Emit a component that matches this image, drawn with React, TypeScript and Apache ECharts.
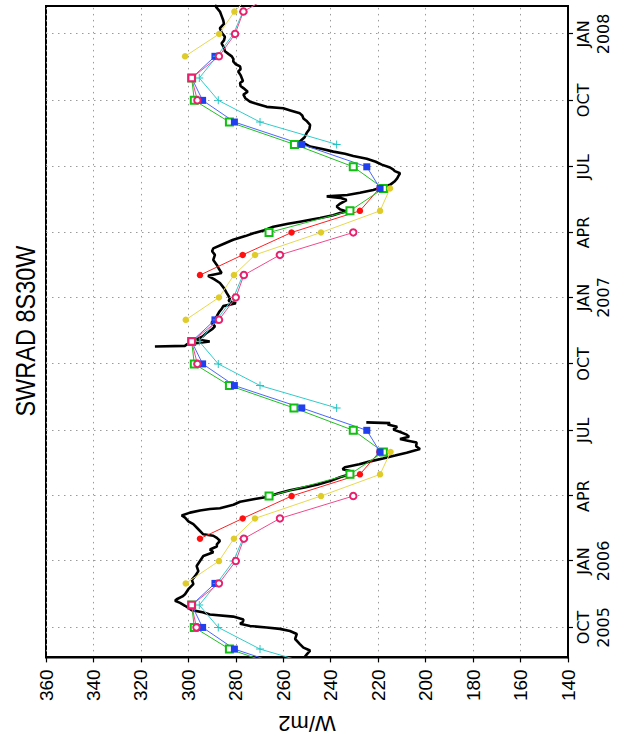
import React, { useEffect, useRef } from "react";
import * as echarts from "echarts";

// ---------- data ----------
const BASE_DATE = "2005-10-01"; // buoy day offsets are counted from this date
const AXIS_START_DAY = -41.5;
const AXIS_END_DAY = 860.7;

const tickDates = [
  "2005-10-01", "2006-01-01", "2006-04-01", "2006-07-01", "2006-10-01",
  "2007-01-01", "2007-04-01", "2007-07-01", "2007-10-01", "2008-01-01",
];
const tickLabels = [
  "OCT\n2005", "JAN\n2006", "APR", "JUL", "OCT",
  "JAN\n2007", "APR", "JUL", "OCT", "JAN\n2008",
];

const months = [
  "2005-08-01", "2005-09-01", "2005-10-01", "2005-11-01", "2005-12-01",
  "2006-01-01", "2006-02-01", "2006-03-01", "2006-04-01", "2006-05-01", "2006-06-01", "2006-07-01",
  "2006-08-01", "2006-09-01", "2006-10-01", "2006-11-01", "2006-12-01",
  "2007-01-01", "2007-02-01", "2007-03-01", "2007-04-01", "2007-05-01", "2007-06-01", "2007-07-01",
  "2007-08-01", "2007-09-01", "2007-10-01", "2007-11-01", "2007-12-01",
  "2008-01-01", "2008-02-01", "2008-03-01",
];

const N = null;
const redVals = [N, N, N, N, N, N, 295.1, 277.1, 256.5, 227.7, 219.5, N, N, N, N, N, N, N, 295.1, 277.1, 256.5, 227.7, 219.5, N, N, N, N, N, N, N, N, N];
const greenVals = [255.3, 282.7, 297.5, 298.6, N, N, N, N, 266.0, 231.9, 217.8, 230.5, 255.5, 282.7, 297.5, 298.6, N, N, N, N, 266.0, 231.9, 217.8, 230.5, 255.3, 282.7, 297.5, 298.6, N, N, N, N];
const blueVals = [252.2, 280.6, 294.0, 298.6, 288.8, N, N, N, N, N, 219.2, 224.8, 252.2, 280.6, 294.0, 298.6, 288.8, N, N, N, N, N, 219.2, 224.8, 252.2, 280.6, 294.0, 298.6, 288.8, N, N, N];
const cyanVals = [237.5, 269.8, 287.4, 295.4, 288.0, 281.0, 277.0, N, N, N, N, N, 237.5, 269.8, 287.4, 295.4, 288.0, 281.0, 277.0, N, N, N, N, N, 237.5, 269.8, 287.4, 295.4, 288.0, 281.0, 277.0, N];
const pinkVals = [N, N, 296.6, 298.6, 287.1, 280.0, 276.6, 261.4, 230.5, N, N, N, N, N, 296.2, 298.6, 287.1, 280.0, 276.6, 261.4, 230.5, N, N, N, N, N, 296.2, 298.6, 287.1, 280.3, 276.8, 261.4];
const yellowVals = [N, N, N, N, 301.1, 287.1, 280.8, 271.9, 244.1, 219.2, 214.8, N, N, N, N, N, 301.1, 287.1, 280.8, 271.9, 244.1, 219.2, 215.0, N, N, N, N, N, 301.4, 287.0, 280.6, 271.9];

// buoy daily record: day offset from BASE_DATE, value (W/m2); null = gap
const buoyDays = [
  -41, -37, -32, -28, -23, -16, -9, -5, -2, 0, 2, 5, 8, 11, 15, 18, 21, 24, 30, 34, 37, 39, 43, 46, 53, 60, 66, 71, 78, 85, 92, 99, 104, 108, 112, 115, 120, 124, 127, 129, 136, 143, 147, 152, 155, 159, 162, 164, 165, 170, 174, 178, 181, 186, 190, 194, 198, 203, 208, 212, 216, 219, 222, 226, 230, 234, 238, 242, 247, 251, 256, 259, 261, 264, 267, 271, 274, 278, 281, 283, 284,
  330,
  389, 390, 392, 394, 396, 399, 403, 408, 413, 417, 422, 426, 431, 437, 441, 445, 449, 452, 456, 463, 470, 477, 482, 487, 491, 496, 502, 509, 516, 521, 525, 530, 537, 542, 546, 550, 555, 559, 562, 565, 567, 571, 574, 576, 579, 583, 587, 592, 595, 597, 599, 602, 606, 609, 613, 618, 622, 625, 629, 632, 634, 637, 641, 645, 649, 653, 656, 659, 663, 666, 670, 673, 679, 685, 690, 696, 701, 705, 709, 712, 716, 719, 721, 725, 728, 733, 738, 742, 747, 750, 754, 757, 761, 765, 770, 773, 777, 780, 784, 787, 791, 794, 798, 803, 809, 813, 818, 824, 830, 836, 841, 847, 853, 858, 862,
];
const buoyVals = [
  251, 250, 248.7, 251.5, 253, 255, 254.3, 257.2, 261.4, 267, 274, 278.2, 277, 276.8, 281.1, 290.9, 294, 298.6, 301.4, 303.5, 305.6, 304.9, 302.5, 301.4, 300, 297.9, 298.5, 297.2, 295.8, 296.5, 295.1, 293.7, 289.5, 290.9, 288, 288, 286.7, 288, 289.5, 293.7, 295.8, 297.9, 300, 301.4, 302.8, 299.3, 295.1, 290.9, 286.7, 281, 278.2, 272, 266.3, 262, 257.2, 251, 245.4, 240, 236.1, 232, 231.1, 235, 234, 228, 223.4, 218, 212.9, 208, 202.4, 204, 203.8, 208, 210.8, 207, 208, 211, 213.6, 212, 216, 215, 225,
  null,
  314.1, 301.4, 300.7, 296, 291, 296.5, 294, 292.3, 290, 288.8, 290.2, 289, 288, 287, 286, 285.3, 280, 283, 282.5, 283.8, 285, 286.7, 289, 291.7, 286, 287, 288, 289.5, 288.8, 290, 289.5, 286, 281.1, 276, 272.6, 268, 264.2, 258, 253, 248, 244.5, 239, 236.1, 233.3, 236, 237.5, 236, 233.3, 236, 241.7, 233, 227.7, 222.1, 219, 215, 213, 212, 211.5, 210.8, 213, 213.6, 215, 218.5, 221, 224.8, 230.5, 234, 238.9, 244, 248.7, 251, 253, 251, 250.1, 249, 248.7, 250, 251.5, 252, 253, 257, 260, 267, 271, 274, 276, 276.8, 275, 276.8, 278, 278.2, 277, 277.5, 278, 279, 278, 278.2, 280, 281.1, 281, 281.7, 283, 284.6, 285, 286, 285, 284.6, 286, 286.7, 285, 285.3, 286, 286.7, 288, 288.8,
];

// ---------- helpers ----------
const DAY = 86400000;
const baseMs = Date.parse(BASE_DATE);
const dayMs = (d: number) => baseMs + d * DAY;
const tickMs = tickDates.map((d) => Date.parse(d));
const monthMs = months.map((d) => Date.parse(d));

const PLUS = "path://M4.4,0H5.6V4.4H10V5.6H5.6V10H4.4V5.6H0V4.4H4.4Z";

function monthly(vals: (number | null)[], overrideMonth?: number, overrideSymbol?: string) {
  return vals.map((v, i) => {
    const item: any = { value: [monthMs[i], v === null ? null : v] };
    if (overrideMonth !== undefined && new Date(monthMs[i]).getUTCMonth() === overrideMonth && v !== null) {
      item.symbol = overrideSymbol;
    }
    return item;
  });
}

const FONT = '"Liberation Sans", Arial, sans-serif';
const GRID_LINE = { show: true, lineStyle: { color: "#9a9a9a", type: [1.5, 4.5], width: 1 } };

export default function App() {
  const ref = useRef<HTMLDivElement>(null);
  useEffect(() => {
    const chart = echarts.init(ref.current!, undefined, { renderer: "svg" });
    const lineSeries = (name: string, vals: (number | null)[], color: string, lineColor: string, symbol: string, size: number, empty: boolean, override?: number) => ({
      name,
      type: "line",
      data: monthly(vals, override, "emptyRect"),
      symbol,
      symbolSize: size,
      showSymbol: true,
      showAllSymbol: true,
      connectNulls: false,
      lineStyle: { color: lineColor, width: 1 },
      itemStyle: empty ? { color: color, borderColor: color, borderWidth: 1 } : { color: color, borderWidth: 0 },
      emphasis: { disabled: true },
      clip: true,
    });
    chart.setOption({
      animation: false,
      backgroundColor: "#ffffff",
      grid: { left: 84, right: 6, top: 46, bottom: 53, show: true, borderColor: "#000", borderWidth: 2, backgroundColor: "transparent" },
      graphic: [
        {
          type: "text",
          x: 411,
          y: 25,
          scaleX: 0.84,
          style: { text: "SWRAD 8S30W", fontSize: 28, fontFamily: FONT, fill: "#000", align: "center", verticalAlign: "middle" },
        },
      ],
      xAxis: {
        type: "value",
        min: dayMs(AXIS_START_DAY),
        max: dayMs(AXIS_END_DAY),
        axisLine: { show: true, lineStyle: { color: "#000", width: 2 } },
        axisTick: { show: true, customValues: tickMs, length: 5, lineStyle: { color: "#000", width: 1.2 } },
        axisLabel: {
          customValues: tickMs,
          formatter: (v: number) => {
            const i = tickMs.findIndex((t) => Math.abs(t - v) < DAY);
            return i >= 0 ? tickLabels[i] : "";
          },
          color: "#000",
          fontFamily: '"DejaVu Sans", sans-serif',
          fontSize: 16,
          lineHeight: 20,
          margin: 5,
        },
        splitLine: GRID_LINE,
      },
      yAxis: {
        type: "value",
        min: 140,
        max: 360,
        interval: 20,
        name: "W/m2",
        nameLocation: "middle",
        nameGap: 50,
        nameTextStyle: { fontSize: 22, fontFamily: FONT, color: "#000" },
        axisLine: { show: true, lineStyle: { color: "#000", width: 2 } },
        axisTick: { show: true, length: 5, lineStyle: { color: "#000", width: 1.2 } },
        axisLabel: { color: "#000", fontFamily: FONT, fontSize: 19, margin: 12 },
        splitLine: GRID_LINE,
      },
      series: [
        {
          name: "buoy",
          type: "line",
          data: buoyDays.map((d, i) => [dayMs(d), buoyVals[i]]),
          symbol: "none",
          showSymbol: false,
          connectNulls: false,
          lineStyle: { color: "#000", width: 2.6 },
          emphasis: { disabled: true },
          clip: true,
        },
        lineSeries("red", redVals, "#ff1010", "#ff2020", "circle", 6.5, false),
        lineSeries("green", greenVals, "#10c010", "#20c020", "emptyRect", 7, true),
        lineSeries("blue", blueVals, "#2040f0", "#4a66ff", "rect", 7, false),
        lineSeries("cyan", cyanVals, "#20c4c4", "#30cccc", PLUS, 8, false),
        lineSeries("pink", pinkVals, "#e8206e", "#f04a8a", "emptyCircle", 6.5, true, 10),
        lineSeries("yellow", yellowVals, "#e0cc28", "#e8d850", "circle", 6.5, false),
      ],
    });
    return () => chart.dispose();
  }, []);
  return (
    <div style={{ position: "fixed", left: 0, top: 0, width: 621, height: 742, overflow: "hidden", background: "#fff" }}>
      <div
        ref={ref}
        style={{ position: "absolute", left: 0, top: 0, width: 742, height: 621, transformOrigin: "0 0", transform: "translateY(742px) rotate(-90deg)" }}
      />
    </div>
  );
}
